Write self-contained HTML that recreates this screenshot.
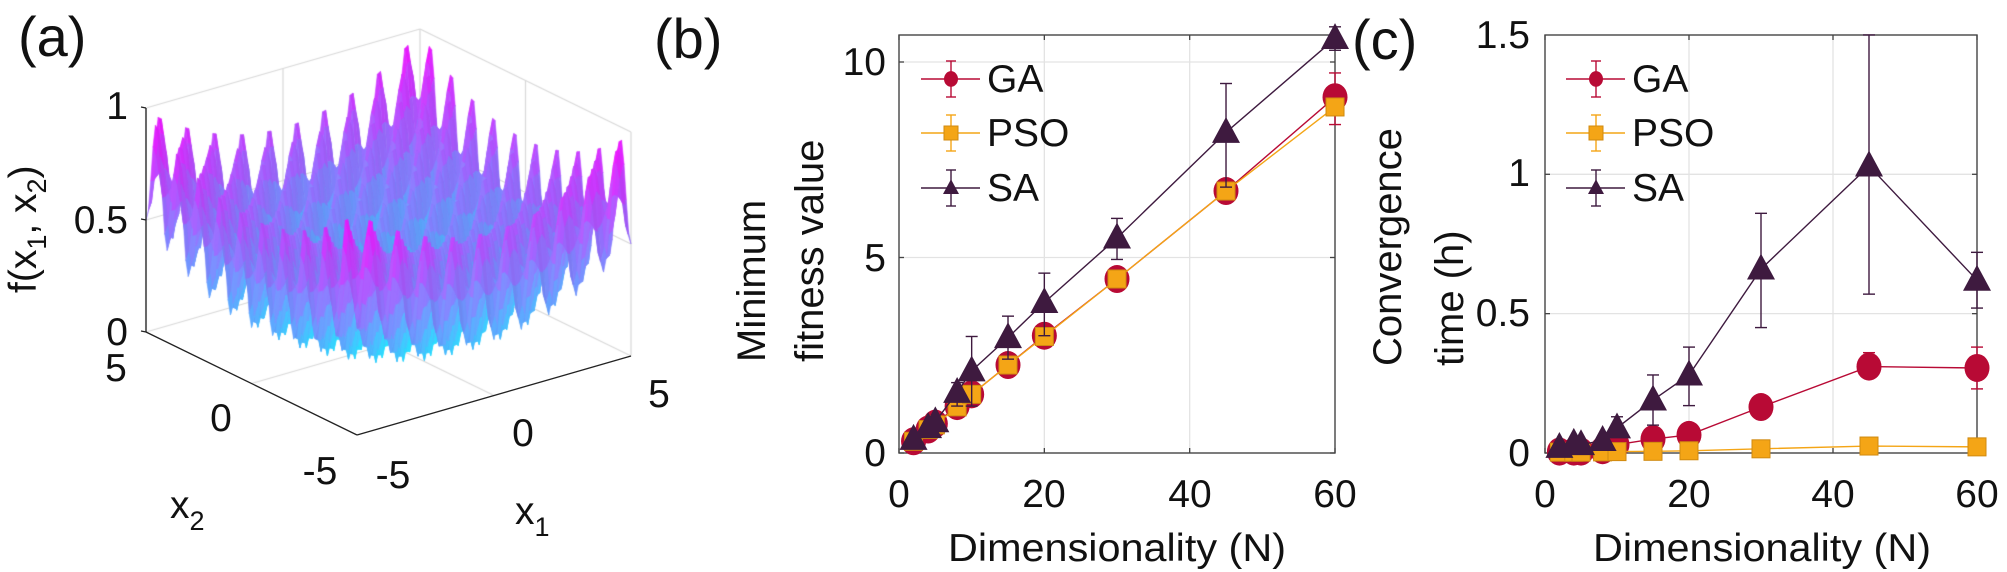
<!DOCTYPE html>
<html><head><meta charset="utf-8">
<style>
html,body{margin:0;padding:0;background:#fff;}
#wrap{position:relative;width:2007px;height:572px;overflow:hidden;}
canvas,svg{position:absolute;left:0;top:0;}
text{font-family:"Liberation Sans",Arial,sans-serif;fill:#111;}
</style></head><body>
<div id="wrap">
<canvas id="cv" width="2007" height="572"></canvas>
<svg id="sv" width="2007" height="572" viewBox="0 0 2007 572">
<g id="back"></g>
<g id="dyn"></g>
<text x="18" y="56" font-size="56">(a)</text>
<text x="654" y="58" font-size="56">(b)</text>
<text x="1352" y="59" font-size="56">(c)</text>
<g font-size="39">
<text x="128" y="119" text-anchor="end">1</text>
<text x="128" y="233" text-anchor="end">0.5</text>
<text x="128" y="345" text-anchor="end">0</text>
<text x="116" y="381" text-anchor="middle">5</text>
<text x="221" y="431" text-anchor="middle">0</text>
<text x="320" y="484" text-anchor="middle">-5</text>
<text x="393" y="488" text-anchor="middle">-5</text>
<text x="523" y="446" text-anchor="middle">0</text>
<text x="659" y="407" text-anchor="middle">5</text>
<text x="170" y="518">x<tspan font-size="27" dy="12">2</tspan></text>
<text x="515" y="524">x<tspan font-size="27" dy="12">1</tspan></text>
<text transform="translate(36,293) rotate(-90)">f(x<tspan font-size="27" dy="10">1</tspan><tspan dy="-10">, x</tspan><tspan font-size="27" dy="10">2</tspan><tspan dy="-10">)</tspan></text>
</g>
<g font-size="39">
<text x="886" y="75" text-anchor="end">10</text>
<text x="886" y="271" text-anchor="end">5</text>
<text x="886" y="466" text-anchor="end">0</text>
<text x="899" y="507" text-anchor="middle">0</text>
<text x="1044" y="507" text-anchor="middle">20</text>
<text x="1190" y="507" text-anchor="middle">40</text>
<text x="1335" y="507" text-anchor="middle">60</text>
<text x="1117" y="561" text-anchor="middle" textLength="338" lengthAdjust="spacingAndGlyphs">Dimensionality (N)</text>
<text transform="translate(765,362) rotate(-90)" font-size="40">Minimum</text>
<text transform="translate(823,362) rotate(-90)" font-size="40">fitness value</text>
<text x="987" y="92" font-size="39">GA</text>
<text x="987" y="146" font-size="39">PSO</text>
<text x="987" y="201" font-size="39">SA</text>
</g>
<g font-size="39">
<text x="1530" y="48" text-anchor="end">1.5</text>
<text x="1530" y="186" text-anchor="end">1</text>
<text x="1530" y="326" text-anchor="end">0.5</text>
<text x="1530" y="466" text-anchor="end">0</text>
<text x="1545" y="507" text-anchor="middle">0</text>
<text x="1689" y="507" text-anchor="middle">20</text>
<text x="1833" y="507" text-anchor="middle">40</text>
<text x="1977" y="507" text-anchor="middle">60</text>
<text x="1762" y="561" text-anchor="middle" textLength="338" lengthAdjust="spacingAndGlyphs">Dimensionality (N)</text>
<text transform="translate(1401,366) rotate(-90)" font-size="40">Convergence</text>
<text transform="translate(1463,366) rotate(-90)" font-size="40">time (h)</text>
<text x="1632" y="92" font-size="39">GA</text>
<text x="1632" y="146" font-size="39">PSO</text>
<text x="1632" y="201" font-size="39">SA</text>
</g>
</svg>
</div>
<script>
(function(){
var cv=document.getElementById('cv'),ctx=cv.getContext('2d');
function P(x1,x2,z){return [357+(x1+5)*27.4-(x2+5)*21.1, 435-(x1+5)*7.9-(x2+5)*10.3-z*224];}
function f(x1,x2){var r2=x1*x1+x2*x2;var osc=(1-Math.cos(2*Math.PI*x1)*Math.cos(2*Math.PI*x2))/2;return 0.5*r2/50+0.5*osc;}
var back=document.getElementById('back'),NS='http://www.w3.org/2000/svg';
function line(g,a,b,col,w){var l=document.createElementNS(NS,'line');l.setAttribute('x1',a[0]);l.setAttribute('y1',a[1]);l.setAttribute('x2',b[0]);l.setAttribute('y2',b[1]);l.setAttribute('stroke',col);l.setAttribute('stroke-width',w||1);g.appendChild(l);}
ctx.strokeStyle='#d8d8d8';ctx.lineWidth=1.2;
function cl(a,b){ctx.beginPath();ctx.moveTo(a[0],a[1]);ctx.lineTo(b[0],b[1]);ctx.stroke();}
[0,0.5,1].forEach(function(z){cl(P(-5,5,z),P(5,5,z));cl(P(5,5,z),P(5,-5,z));});
cl(P(-5,5,0),P(-5,5,1));cl(P(0,5,0),P(0,5,1));cl(P(5,5,0),P(5,5,1));cl(P(5,0,0),P(5,0,1));cl(P(5,-5,0),P(5,-5,1));
cl(P(0,-5,0),P(0,5,0));cl(P(-5,0,0),P(5,0,0));
var N=90,h=10/N,quads=[];
for(var i=0;i<N;i++)for(var j=0;j<N;j++){var a=-5+i*h,b=-5+j*h;quads.push([a,b]);}
quads.sort(function(p,q){return (q[0]+q[1])-(p[0]+p[1]);});
quads.forEach(function(q){
 var a=q[0],b=q[1];
 var z1=f(a,b),z2=f(a+h,b),z3=f(a+h,b+h),z4=f(a,b+h);
 var zm=(z1+z2+z3+z4)/4;
 var t=Math.max(0,Math.min(1,zm));
 var dzx=(z2+z3-z1-z4)/(2*h),dzy=(z3+z4-z1-z2)/(2*h);
 var sh=1+0.04*(dzx-dzy*0.6);sh=Math.max(0.82,Math.min(1.06,sh));
 var R=Math.round(Math.min(255,(20+235*t)*sh)),G=Math.round(Math.min(255,(240-235*t)*sh)),B=Math.round(Math.min(255,255*sh));
 var c='rgb('+R+','+G+','+B+')';
 var p1=P(a,b,z1),p2=P(a+h,b,z2),p3=P(a+h,b+h,z3),p4=P(a,b+h,z4);
 ctx.fillStyle=c;ctx.strokeStyle=c;ctx.lineWidth=0.6;
 ctx.beginPath();ctx.moveTo(p1[0],p1[1]);ctx.lineTo(p2[0],p2[1]);ctx.lineTo(p3[0],p3[1]);ctx.lineTo(p4[0],p4[1]);ctx.closePath();ctx.fill();ctx.stroke();
});
line(back,P(-5,5,0),P(-5,5,1),'#222',1.3);
line(back,P(-5,5,0),P(-5,-5,0),'#222',1.3);
line(back,P(-5,-5,0),P(5,-5,0),'#222',1.3);
[0,0.5,1].forEach(function(z){var p=P(-5,5,z);line(back,p,[p[0]-5,p[1]-1],'#222',1.3);});
var dyn=document.getElementById('dyn');
function el(tag,attrs){var e=document.createElementNS(NS,tag);for(var k in attrs)e.setAttribute(k,attrs[k]);dyn.appendChild(e);return e;}
function frame(x0,x1,y0,y1,gx,gy){
 gx.forEach(function(x){el('line',{x1:x,y1:y0,x2:x,y2:y1,stroke:'#e3e3e3','stroke-width':1.3});});
 gy.forEach(function(y){el('line',{x1:x0,y1:y,x2:x1,y2:y,stroke:'#e3e3e3','stroke-width':1.3});});
 el('rect',{x:x0,y:y0,width:x1-x0,height:y1-y0,fill:'none',stroke:'#444','stroke-width':1.4});
 gx.concat([x0,x1]).forEach(function(x){el('line',{x1:x,y1:y1,x2:x,y2:y1-5,stroke:'#444','stroke-width':1.3});el('line',{x1:x,y1:y0,x2:x,y2:y0+5,stroke:'#444','stroke-width':1.3});});
 gy.concat([y1]).forEach(function(y){el('line',{x1:x0,y1:y,x2:x0+5,y2:y,stroke:'#444','stroke-width':1.3});el('line',{x1:x1,y1:y,x2:x1-5,y2:y,stroke:'#444','stroke-width':1.3});});
}
var GA='#b80a35',PSO='#f4a516',SA='#3e1a3f';
function marker(type,x,y,s,col){
 if(type=='c')el('ellipse',{cx:x,cy:y,rx:s,ry:s*1.12,fill:col});
 else if(type=='s')el('rect',{x:x-s,y:y-s,width:2*s,height:2*s,fill:col,stroke:'#d08a10','stroke-width':1});
 else el('polygon',{points:(x)+','+(y-s*1.1)+' '+(x+s)+','+(y+s*0.75)+' '+(x-s)+','+(y+s*0.75),fill:col});
}
function series(X,Y,ns,vs,errs,col,type,s){
 var pts=ns.map(function(n,i){return X(n)+','+Y(vs[i]);}).join(' ');
 el('polyline',{points:pts,fill:'none',stroke:col,'stroke-width':1.4});
 errs.forEach(function(e){if(!e)return;var x=X(e[0]);
  el('line',{x1:x,y1:Y(e[1]),x2:x,y2:Y(e[2]),stroke:col,'stroke-width':1.4});
  el('line',{x1:x-6,y1:Y(e[1]),x2:x+6,y2:Y(e[1]),stroke:col,'stroke-width':1.4});
  el('line',{x1:x-6,y1:Y(e[2]),x2:x+6,y2:Y(e[2]),stroke:col,'stroke-width':1.4});});
 ns.forEach(function(n,i){marker(type,X(n),Y(vs[i]),s,col);});
}
function legend(x0){
 var ys=[79,133,188],cols=[GA,PSO,SA],ty=['c','s','t'];
 ys.forEach(function(y,i){var c=cols[i];var xm=x0+30;
  el('line',{x1:x0,y1:y,x2:x0+59,y2:y,stroke:c,'stroke-width':1.4});
  el('line',{x1:xm,y1:y-18,x2:xm,y2:y+18,stroke:c,'stroke-width':1.4});
  el('line',{x1:xm-5,y1:y-18,x2:xm+5,y2:y-18,stroke:c,'stroke-width':1.4});
  el('line',{x1:xm-5,y1:y+18,x2:xm+5,y2:y+18,stroke:c,'stroke-width':1.4});
  marker(ty[i],xm,y,i==0?7:(i==1?7:8),c);});
}
var ns=[2,4,5,8,10,15,20,30,45,60];
(function(){
 var X=function(n){return 899+n*7.267},Y=function(v){return 453-v*39.1};
 frame(899,1335,35,453,[X(20),X(40)],[Y(5),Y(10)]);
 var ga=[0.3,0.6,0.75,1.2,1.5,2.25,3.0,4.45,6.7,9.1];
 var pso=[0.3,0.6,0.72,1.18,1.5,2.25,2.98,4.45,6.7,8.85];
 var sa=[0.35,0.65,0.8,1.55,2.1,2.95,3.85,5.5,8.2,10.6];
 series(X,Y,ns,ga,[[60,8.4,9.72]],GA,'c',12.5);
 series(X,Y,ns,pso,[],PSO,'s',9);
 series(X,Y,ns,sa,[[8,1.2,1.8],[10,1.2,2.98],[15,2.4,3.5],[20,3.0,4.6],[30,4.95,6.0],[45,6.8,9.45],[60,10.3,10.9]],SA,'t',14);
 legend(921);
})();
(function(){
 var X=function(n){return 1545+n*7.2},Y=function(v){return 453-v*278.7};
 frame(1545,1977,35,453,[X(20),X(40)],[Y(0.5),Y(1)]);
 var ga=[0.005,0.005,0.005,0.01,0.03,0.05,0.065,0.165,0.31,0.305];
 var pso=[0.003,0.003,0.003,0.004,0.005,0.006,0.008,0.015,0.025,0.022];
 var sa=[0.02,0.035,0.03,0.045,0.09,0.19,0.28,0.66,1.03,0.62];
 series(X,Y,ns,ga,[[30,0.14,0.2],[45,0.27,0.36],[60,0.23,0.38]],GA,'c',12.5);
 series(X,Y,ns,pso,[],PSO,'s',9);
 series(X,Y,ns,sa,[[10,0.06,0.13],[15,0.1,0.28],[20,0.17,0.38],[30,0.45,0.86],[45,0.57,1.5],[60,0.52,0.72]],SA,'t',14);
 legend(1566);
})();
})();
</script>
</body></html>
